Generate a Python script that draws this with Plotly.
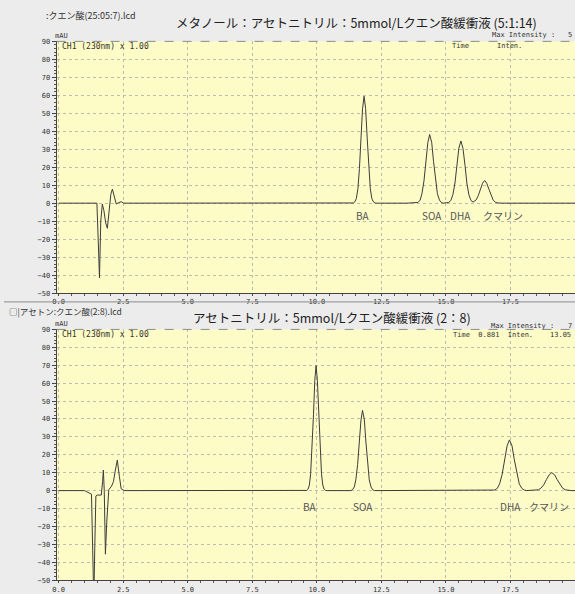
import plotly.graph_objects as go

# ---------------- data ----------------
top_time = [0.0, 1.0, 1.48, 1.53, 1.58, 1.63, 1.69, 1.75, 1.82, 1.885, 1.95, 2.02, 2.08, 2.14, 2.23, 2.32, 2.42, 2.52, 2.7,
            5.0, 8.0, 11.0,
            11.41, 11.47, 11.53, 11.59, 11.65, 11.71, 11.77, 11.83, 11.89, 11.95, 12.01, 12.07, 12.13, 12.19, 12.25, 12.31,
            13.5,
            13.85, 13.92, 14.0, 14.07, 14.15, 14.22, 14.3, 14.37, 14.45, 14.52, 14.6, 14.67, 14.75, 14.82, 14.9,
            15.11, 15.19, 15.27, 15.35, 15.42, 15.5, 15.58, 15.66, 15.74, 15.81, 15.89, 15.97, 16.05,
            16.17, 16.25, 16.33, 16.42, 16.5, 16.58, 16.67, 16.75, 16.83, 16.91, 17.0, 17.2, 20.0]
top_mau = [0, 0, 0, -20, -41.5, -10, -0.5, -4, -11, -14, -4, 5, 7.8, 4, -0.5, 0.3, 0.8, 0, 0,
           0, 0, 0,
           0.1, 0.7, 2.6, 8.0, 19.3, 36.1, 52.5, 59.5, 52.5, 36.1, 19.3, 8.0, 2.6, 0.7, 0.1, 0,
           0,
           0, 0.4, 1.7, 5.2, 12.4, 23.2, 33.7, 38.2, 33.7, 23.2, 12.4, 5.2, 1.7, 0.4, 0,
           0.4, 1.5, 4.7, 11.2, 21.0, 30.5, 34.6, 30.5, 21.0, 11.2, 4.7, 1.5, 0.6,
           1.8, 4.1, 7.6, 11.1, 12.6, 11.1, 7.6, 4.1, 1.7, 0.55, 0.1, 0, 0]

bottom_time = [0.0, 1.0, 1.27, 1.33, 1.36, 1.40, 1.44, 1.50, 1.65, 1.70, 1.73, 1.765, 1.81, 1.86, 1.94, 2.05, 2.12,
               2.19, 2.27, 2.35, 2.42, 2.54, 5.0, 9.0,
               9.61, 9.66, 9.71, 9.76, 9.81, 9.87, 9.92, 9.97, 10.02, 10.07, 10.13, 10.18, 10.23, 10.28, 10.33, 10.4,
               11.32, 11.38, 11.45, 11.51, 11.58, 11.64, 11.71, 11.77, 11.84, 11.9, 11.97, 12.03, 12.1, 12.16, 12.23,
               16.8, 16.89, 16.99, 17.08, 17.18, 17.27, 17.37, 17.46, 17.56, 17.65, 17.75, 17.84, 17.94, 18.03, 18.13,
               18.47, 18.58, 18.68, 18.79, 18.89, 19.0, 19.1, 19.21, 19.31, 19.42, 19.52, 19.63, 19.73, 19.85, 20.0]
bottom_mau = [0, 0, -2, -40, -62, -30, -3, -2.5, -2.5, 5, 11.5, 0, -35.5, -18, 0.5, 2.5, 5,
              11, 17, 8, 1, 0, 0, 0,
              0.1, 0.8, 3.1, 9.4, 22.7, 42.4, 61.6, 69.8, 61.6, 42.4, 22.7, 9.4, 3.1, 0.8, 0.1, 0,
              0, 0.5, 2.0, 6.0, 14.6, 27.2, 39.5, 44.8, 39.5, 27.2, 14.6, 6.0, 2.0, 0.5, 0,
              0, 0.3, 1.25, 3.8, 9.2, 17.2, 25.0, 28.3, 25.0, 17.2, 9.2, 3.8, 1.25, 0.3, 0,
              0.1, 0.44, 1.35, 3.2, 6.1, 8.8, 10.0, 8.8, 6.1, 3.2, 1.35, 0.44, 0.1, 0, 0]

peak_names = ["BA", "SOA", "DHA", "クマリン"]
top_label_x = [11.8, 14.45, 15.55, 17.2]
bottom_label_x = [9.75, 11.8, 17.5, 19.0]

x_tick_vals = [0, 2.5, 5, 7.5, 10, 12.5, 15, 17.5, 20]
x_tick_text = ["0.0", "2.5", "5.0", "7.5", "10.0", "12.5", "15.0", "17.5", "min"]
y_tick_vals = [90, 80, 70, 60, 50, 40, 30, 20, 10, 0, -10, -20, -30, -40, -50]

top_file = ":クエン酸(25:05:7).lcd"
top_title = "メタノール：アセトニトリル：5mmol/Lクエン酸緩衝液 (5:1:14)"
bottom_file = "□|アセトン:クエン酸(2:8).lcd"
bottom_title = "アセトニトリル：5mmol/Lクエン酸緩衝液 (2：8)"

# ---------------- figure ----------------
W, H = 575, 594


def px(x):
    return x / W


def py(y):
    return 1 - y / H


JP = "Noto Sans CJK JP"
MONO = "DejaVu Sans Mono"
LINE = "#3c3c3c"

fig = go.Figure()
fig.add_trace(go.Scatter(x=top_time, y=top_mau, mode="lines", line=dict(color=LINE, width=1),
                         xaxis="x", yaxis="y", showlegend=False, hoverinfo="skip"))
fig.add_trace(go.Scatter(x=bottom_time, y=bottom_mau, mode="lines", line=dict(color=LINE, width=1),
                         xaxis="x2", yaxis="y2", showlegend=False, hoverinfo="skip"))

xcommon = dict(range=[-0.08, 20.0], tickvals=x_tick_vals, ticktext=x_tick_text,
               tickfont=dict(family=MONO, size=7, color="#333"),
               showgrid=True, gridcolor="#bcbcb0", griddash="dot", gridwidth=1,
               showline=True, linecolor="#444", linewidth=1, ticks="outside", ticklen=2,
               tickcolor="#444", zeroline=False,
               minor=dict(dtick=0.5, ticks="outside", ticklen=2, tickcolor="#555", showgrid=False),
               domain=[px(53), 1.0], fixedrange=True)
ycommon = dict(range=[-50, 90], tickvals=y_tick_vals,
               tickfont=dict(family=MONO, size=7, color="#333"),
               showgrid=True, gridcolor="#bcbcb0", griddash="dot", gridwidth=1,
               showline=True, linecolor="#444", linewidth=1, ticks="outside", ticklen=4,
               tickcolor="#444", zeroline=False,
               minor=dict(dtick=2, ticks="outside", ticklen=2, tickcolor="#555", showgrid=False),
               fixedrange=True)

fig.update_layout(
    width=W, height=H,
    margin=dict(l=0, r=0, t=0, b=0),
    paper_bgcolor="#ececec",
    plot_bgcolor="#fefcc6",
    xaxis=dict(**xcommon, anchor="y"),
    yaxis=dict(**ycommon, domain=[py(294), py(38)], anchor="x"),
    xaxis2=dict(**xcommon, anchor="y2"),
    yaxis2=dict(**ycommon, domain=[py(586), py(331)], anchor="x2"),
)

ann = []


def text(x, y, s, size, family=JP, color="#333", xanchor="left", yanchor="middle"):
    ann.append(dict(x=px(x), y=py(y), xref="paper", yref="paper", text=s, showarrow=False,
                    font=dict(family=family, size=size, color=color), xanchor=xanchor, yanchor=yanchor))


# top panel header
text(40, 12, top_file, 9)
text(355, 19, top_title, 12.5, color="#222", xanchor="center")
text(489, 32, "Max Intensity :", 7, family=MONO)
text(566, 32, "5", 7, family=MONO)
text(49, 33, "mAU", 7, family=MONO)
text(56, 43, "CH1 (230nm) x 1.00", 8, family=MONO)
text(449, 43, "Time", 7, family=MONO)
text(494, 43, "Inten.", 7, family=MONO)

# bottom panel header
text(3, 313, bottom_file, 8.5)
text(330, 319, bottom_title, 12.5, color="#222", xanchor="center")
text(488, 328, "Max Intensity :", 7, family=MONO)
text(566, 328, "7", 7, family=MONO)
text(49, 325, "mAU", 7, family=MONO)
text(56, 336, "CH1 (230nm) x 1.00", 8, family=MONO)
text(450, 337, "Time  0.881  Inten.", 7, family=MONO)
text(548, 337, "13.05", 7, family=MONO)

# peak labels (data coordinates)
for name, xv in zip(peak_names, top_label_x):
    ann.append(dict(x=xv, y=-7, xref="x", yref="y", text=name, showarrow=False,
                    font=dict(family=JP, size=10, color="#555"), xanchor="center", yanchor="middle"))
for name, xv in zip(peak_names, bottom_label_x):
    ann.append(dict(x=xv, y=-9, xref="x2", yref="y2", text=name, showarrow=False,
                    font=dict(family=JP, size=10, color="#555"), xanchor="center", yanchor="middle"))

fig.update_layout(annotations=ann)

# dashed top borders of the two plot areas
for ytop in (38, 331):
    fig.add_shape(type="line", xref="paper", yref="paper", x0=px(53), x1=1, y0=py(ytop), y1=py(ytop),
                  line=dict(color="#8c8c8c", width=1, dash="dash"))

# separator between the two windows
fig.add_shape(type="line", xref="paper", yref="paper", x0=0, x1=1, y0=py(303), y1=py(303),
              line=dict(color="#8a8a8a", width=1))

fig.write_html("out.html", config={"displayModeBar": False},
               post_script="document.body.style.margin='0';document.body.style.overflow='hidden';")
